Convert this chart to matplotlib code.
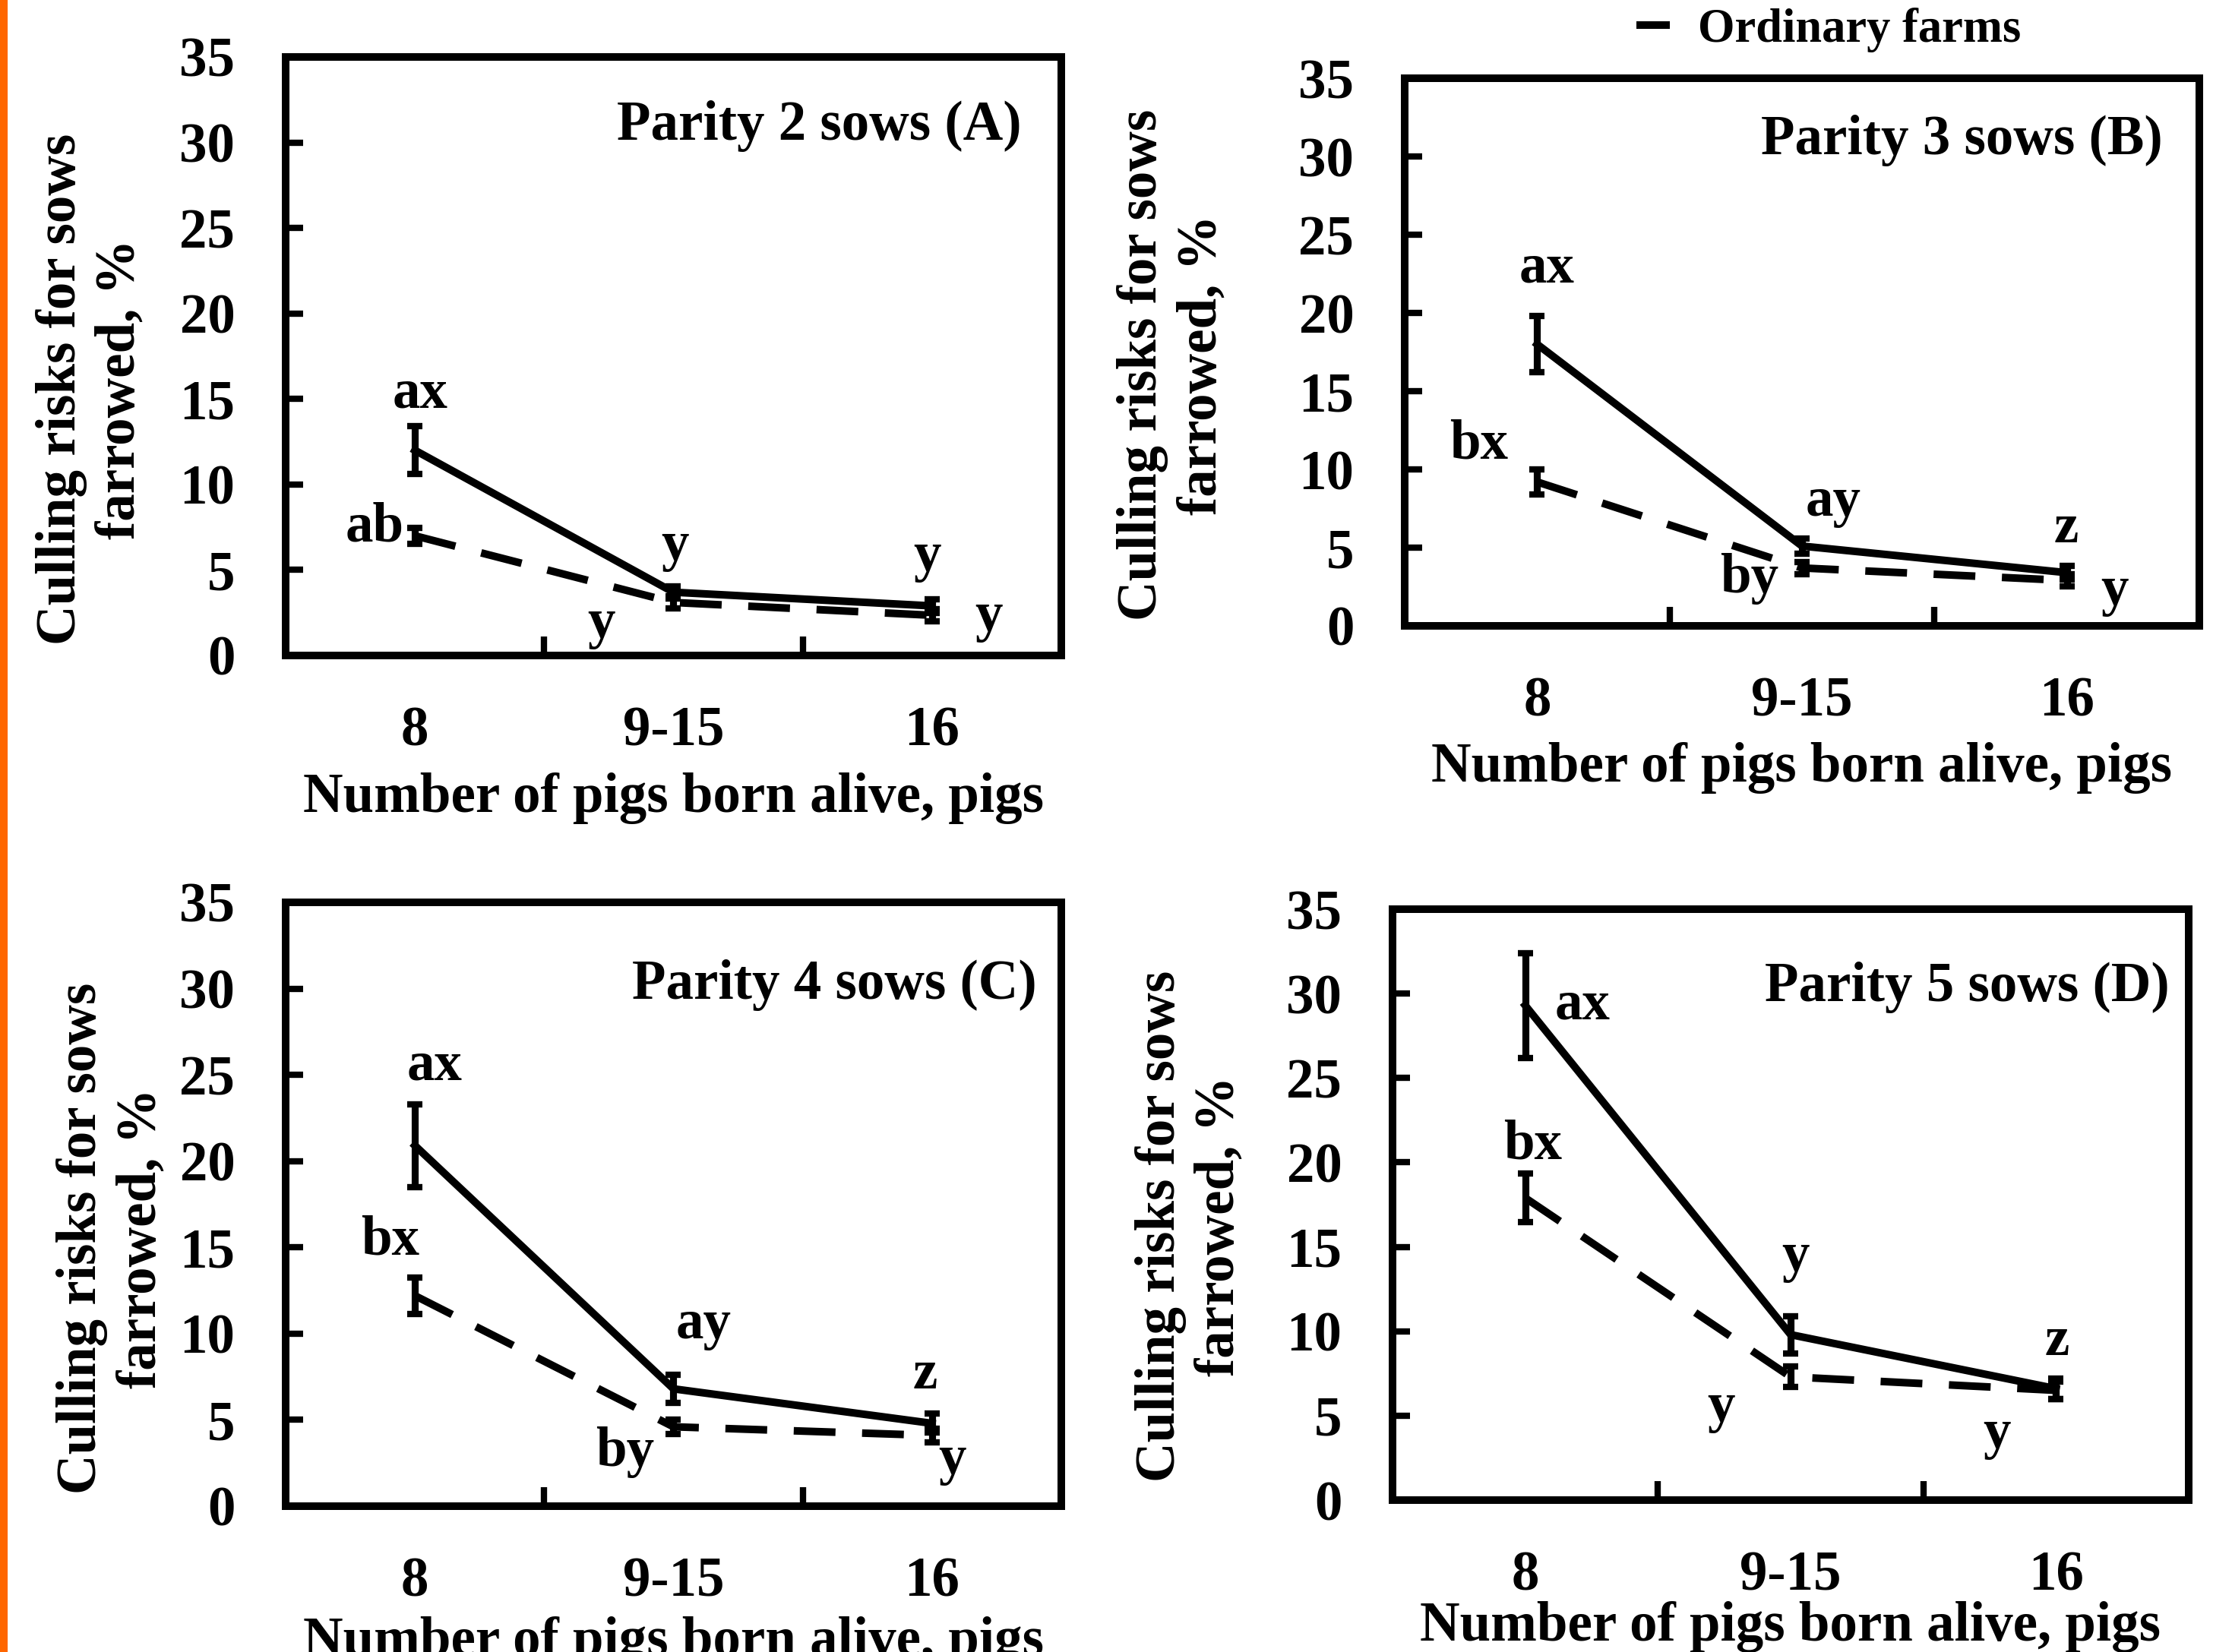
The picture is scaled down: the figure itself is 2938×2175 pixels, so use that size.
import matplotlib
matplotlib.use('Agg')
import matplotlib.pyplot as plt
from matplotlib.patches import Rectangle

plt.rcParams['font.family'] = 'Liberation Serif'
plt.rcParams['font.weight'] = 'bold'
plt.rcParams['axes.labelweight'] = 'bold'
plt.rcParams['font.size'] = 17.5

# pigs born alive classes (x axis)
categories = ['8', '9-15', '16']

# culling risk, % (solid line = other farms, dashed = ordinary farms), with error bars
parity2_solid = [12.0, 3.7, 2.9]
parity2_solid_err = [1.4, 0.35, 0.4]
parity2_ordinary = [7.0, 3.1, 2.35]
parity2_ordinary_err = [0.45, 0.35, 0.35]

parity3_solid = [18.0, 5.1, 3.4]
parity3_solid_err = [1.8, 0.5, 0.45]
parity3_ordinary = [9.2, 3.7, 2.9]
parity3_ordinary_err = [0.8, 0.4, 0.4]

parity4_solid = [20.9, 6.8, 4.8]
parity4_solid_err = [2.4, 0.8, 0.55]
parity4_ordinary = [12.2, 4.6, 4.1]
parity4_ordinary_err = [1.05, 0.4, 0.4]

parity5_solid = [29.3, 9.8, 6.6]
parity5_solid_err = [3.1, 1.1, 0.6]
parity5_ordinary = [17.9, 7.3, 6.5]
parity5_ordinary_err = [1.45, 0.6, 0.5]

titles = ['Parity 2 sows (A)', 'Parity 3 sows (B)', 'Parity 4 sows (C)', 'Parity 5 sows (D)']

# significance letters: (text, x position in category units, y in %)
letters_A = [('ax', 0.52, 14.5), ('ab', 0.344, 6.7), ('y', 1.505, 5.6), ('y', 1.22, 1.07), ('y', 2.48, 4.97), ('y', 2.72, 1.47)]
letters_B = [('ax', 0.536, 21.95), ('bx', 0.28, 10.7), ('ay', 1.617, 7.03), ('by', 1.30, 2.13), ('z', 2.497, 5.33), ('y', 2.68, 1.35)]
letters_C = [('ax', 0.575, 24.7), ('bx', 0.404, 14.58), ('ay', 1.615, 9.75), ('by', 1.312, 2.35), ('z', 2.474, 6.82), ('y', 2.579, 1.9)]
letters_D = [('ax', 0.715, 28.5), ('bx', 0.527, 20.24), ('y', 1.52, 13.6), ('y', 1.238, 4.66), ('z', 2.503, 8.6), ('y', 2.276, 3.12)]

panels = [
    (parity2_solid, parity2_solid_err, parity2_ordinary, parity2_ordinary_err, letters_A),
    (parity3_solid, parity3_solid_err, parity3_ordinary, parity3_ordinary_err, letters_B),
    (parity4_solid, parity4_solid_err, parity4_ordinary, parity4_ordinary_err, letters_C),
    (parity5_solid, parity5_solid_err, parity5_ordinary, parity5_ordinary_err, letters_D),
]

# layout: axes rect, ylabel coords, xlabel y, title anchor
layout = [
    ([0.12798, 0.60322, 0.34751, 0.36230], (-0.251, 0.445), -0.239, (0.949, 0.862)),
    ([0.62934, 0.62115, 0.35602, 0.33149], (-0.292, 0.476), -0.259, (0.954, 0.861)),
    ([0.12798, 0.08828, 0.34751, 0.36552], (-0.224, 0.444), -0.225, (0.968, 0.840)),
    ([0.62389, 0.09195, 0.35671, 0.35770], (-0.254, 0.464), -0.215, (0.976, 0.844)),
]

fig = plt.figure(figsize=(2938 / 300, 2175 / 300), dpi=300)
fig.add_artist(Rectangle((0, 0), 8 / 2938, 1, transform=fig.transFigure, color='#ff6600', zorder=0))

xpos = [0.5, 1.5, 2.5]
lw = 2.4
legend_line = None
for (solid, solid_err, ordi, ordi_err, letters), (rect, ylab, xlab_y, tpos), title in zip(panels, layout, titles):
    ax = fig.add_axes(rect)
    ax.errorbar(xpos, solid, yerr=solid_err, color='black', lw=lw, elinewidth=2.2,
                capsize=2.4, capthick=2.0, zorder=3)
    eb = ax.errorbar(xpos, ordi, yerr=ordi_err, color='black', lw=lw, elinewidth=2.2,
                     capsize=2.4, capthick=2.0, zorder=3)
    eb[0].set_dashes((5.5, 3.5))
    eb[0].set_dash_capstyle('butt')
    legend_line = eb[0]

    ax.set_xlim(0, 3)
    ax.set_ylim(0, 35)
    ax.set_yticks(range(0, 36, 5))
    ax.set_xticks(xpos)
    ax.set_xticklabels(categories)
    ax.set_xticks([1, 2], minor=True)
    ax.tick_params(axis='y', direction='in', length=5.5, width=2, pad=16, labelsize=17.5)
    ax.tick_params(axis='x', which='major', length=0, pad=16, labelsize=17.5)
    ax.tick_params(axis='x', which='minor', direction='in', length=6, width=2)
    for sp in ax.spines.values():
        sp.set_linewidth(2.4)
        sp.set_joinstyle('round')

    ax.set_ylabel('Culling risks for sows\nfarrowed, %', fontsize=17.5, fontweight='bold',
                  va='center', ha='center')
    ax.yaxis.set_label_coords(*ylab)
    ax.set_xlabel('Number of pigs born alive, pigs', fontsize=17.5, fontweight='bold', va='center')
    ax.xaxis.set_label_coords(0.5, xlab_y)

    ax.text(tpos[0], tpos[1], title, transform=ax.transAxes, ha='right', va='baseline', fontsize=17.5)
    for txt, x, y in letters:
        ax.text(x, y, txt, ha='center', va='baseline', fontsize=17.5)

fig.legend(handles=[legend_line], labels=['Ordinary farms'], loc='center left',
           bbox_to_anchor=(0.7332, 0.982), frameon=False, handlelength=0.70,
           handletextpad=0.59, borderpad=0, borderaxespad=0, fontsize=15)

fig.savefig('out.png', dpi=300)
